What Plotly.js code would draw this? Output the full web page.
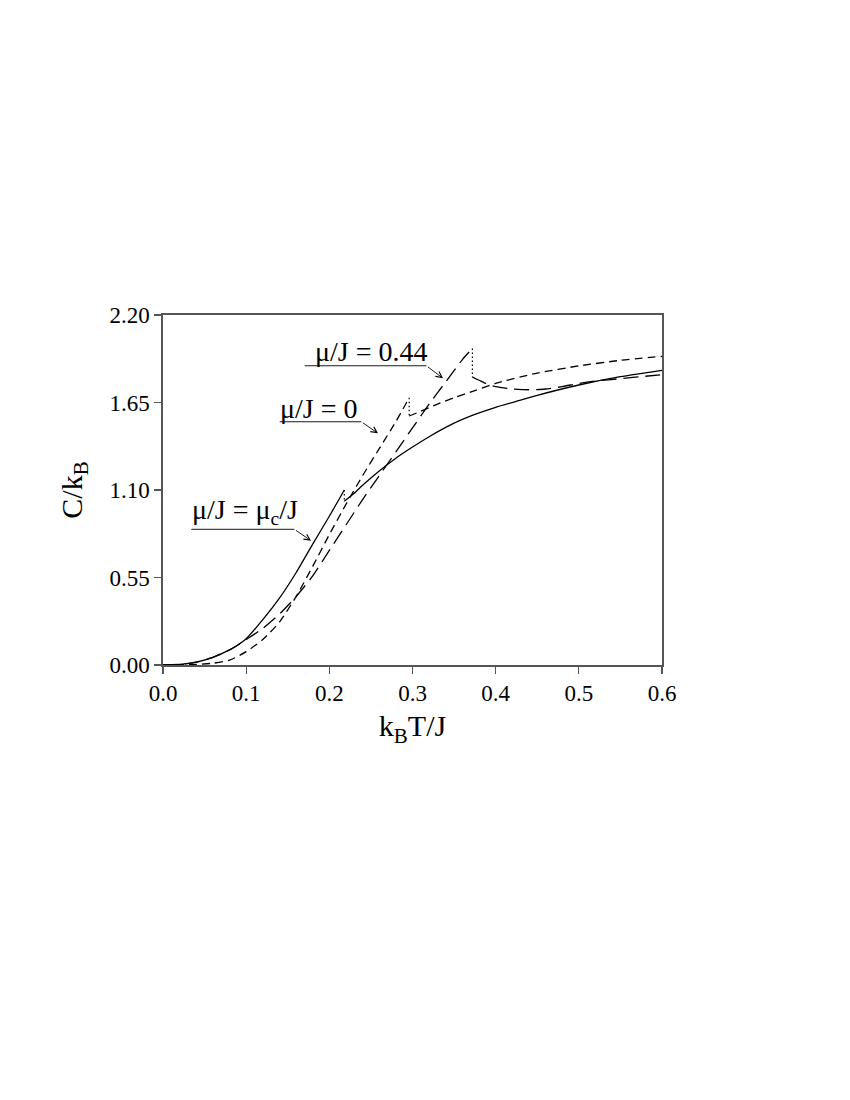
<!DOCTYPE html>
<html>
<head>
<meta charset="utf-8">
<script src="https://cdn.plot.ly/plotly-3.0.1.min.js"></script>
<style>html,body{margin:0;padding:0;background:#fff}#chart{width:850px;height:1100px}</style>
</head>
<body>
<div id="chart"></div>
<script>
// mu/J = mu_c/J (solid)
const tLowC  = [0, 0.02, 0.04, 0.06, 0.08, 0.09, 0.10, 0.12, 0.14, 0.16, 0.18, 0.20, 0.218];
const cLowC  = [0, 0.004, 0.018, 0.048, 0.095, 0.126, 0.165, 0.285, 0.42, 0.58, 0.76, 0.935, 1.10];
const tHighC = [0.218, 0.23, 0.24, 0.26, 0.28, 0.30, 0.32, 0.35, 0.375, 0.40, 0.43, 0.45, 0.50, 0.55, 0.60];
const cHighC = [1.03, 1.08, 1.13, 1.22, 1.30, 1.37, 1.435, 1.52, 1.575, 1.62, 1.665, 1.695, 1.76, 1.812, 1.852];

// mu/J = 0 (short dash)
const tLow0  = [0, 0.02, 0.04, 0.06, 0.08, 0.10, 0.12, 0.14, 0.16, 0.18, 0.20, 0.22, 0.24, 0.26, 0.28, 0.296];
const cLow0  = [0, 0.001, 0.004, 0.011, 0.03, 0.084, 0.16, 0.27, 0.43, 0.62, 0.82, 1.01, 1.19, 1.36, 1.53, 1.68];
const tHigh0 = [0.296, 0.31, 0.33, 0.35, 0.375, 0.40, 0.45, 0.50, 0.55, 0.60];
const cHigh0 = [1.565, 1.595, 1.64, 1.68, 1.725, 1.77, 1.835, 1.88, 1.915, 1.94];

// mu/J = 0.44 (long dash)
const tLow44  = [0, 0.02, 0.04, 0.06, 0.08, 0.09, 0.10, 0.12, 0.14, 0.16, 0.18, 0.20, 0.22, 0.24, 0.26, 0.28, 0.30, 0.32, 0.34, 0.36, 0.372];
const cLow44  = [0, 0.004, 0.018, 0.048, 0.095, 0.126, 0.16, 0.23, 0.32, 0.43, 0.56, 0.72, 0.88, 1.04, 1.19, 1.34, 1.49, 1.64, 1.78, 1.92, 1.99];
const tHigh44 = [0.372, 0.38, 0.39, 0.40, 0.42, 0.44, 0.46, 0.48, 0.50, 0.52, 0.55, 0.58, 0.60];
const cHigh44 = [1.81, 1.79, 1.765, 1.75, 1.735, 1.73, 1.735, 1.75, 1.77, 1.785, 1.80, 1.815, 1.825];

const xTicks = [0, 0.1, 0.2, 0.3, 0.4, 0.5, 0.6];
const yTicks = [0, 0.55, 1.10, 1.65, 2.20];

const labels = ["μ/J = 0.44", "μ/J = 0", "μ/J = μ<sub>c</sub>/J"];
const labelX = [0.25, 0.187, 0.098];
const labelY = [1.97, 1.615, 0.964];
const lineX0 = [0.1704, 0.1403, 0.034];
const lineX1 = [0.3167, 0.2385, 0.158];
const lineY  = [1.881, 1.529, 0.853];
const tipX   = [0.3367, 0.2585, 0.178];
const tipY   = [1.802, 1.456, 0.781];

const font = "Liberation Serif, Times New Roman, serif";
const lw = 1.3;

function line(x, y, dash, w) {
  return {x: x, y: y, type: 'scatter', mode: 'lines', showlegend: false, hoverinfo: 'skip',
          line: {color: '#000', width: w || lw, dash: dash, shape: 'spline', smoothing: 0.6}};
}
function drop(tl, cl, th, ch) {
  return {x: [tl[tl.length-1], th[0]], y: [cl[cl.length-1], ch[0]], type: 'scatter', mode: 'lines',
          showlegend: false, hoverinfo: 'skip', line: {color: '#000', width: 1.2, dash: '1.5px,2.5px'}};
}

const sDash = '8px,5px';
const lDash = '15px,7px';
const traces = [
  line(tLowC, cLowC, 'solid'), drop(tLowC, cLowC, tHighC, cHighC), line(tHighC, cHighC, 'solid'),
  line(tLow0, cLow0, sDash), drop(tLow0, cLow0, tHigh0, cHigh0), line(tHigh0, cHigh0, sDash),
  line(tLow44, cLow44, lDash), drop(tLow44, cLow44, tHigh44, cHigh44), line(tHigh44, cHigh44, lDash)
];

const annotations = [];
const shapes = [];
for (let i = 0; i < labels.length; i++) {
  annotations.push({x: labelX[i], y: labelY[i], xref: 'x', yref: 'y', text: labels[i], showarrow: false,
    font: {family: font, size: 28, color: '#000'}});
  shapes.push({type: 'line', xref: 'x', yref: 'y', x0: lineX0[i], x1: lineX1[i], y0: lineY[i], y1: lineY[i],
    line: {color: '#000', width: 0.9}});
  annotations.push({x: tipX[i], y: tipY[i], xref: 'x', yref: 'y', ax: lineX1[i], ay: lineY[i], axref: 'x', ayref: 'y',
    text: '', showarrow: true, arrowhead: 5, arrowsize: 1.3, arrowwidth: 0.9, arrowcolor: '#000', standoff: 0});
}

const layout = {
  width: 850, height: 1100,
  margin: {l: 163, r: 188, t: 315, b: 435},
  paper_bgcolor: '#fff', plot_bgcolor: '#fff',
  font: {family: font, color: '#000'},
  showlegend: false,
  xaxis: {range: [0, 0.6], tickvals: xTicks, tickformat: '.1f', ticks: 'outside', ticklen: 7, tickwidth: 1.2,
    tickcolor: '#555', showline: true, linecolor: '#555', linewidth: 1.6, mirror: true, showgrid: false, zeroline: false,
    tickfont: {family: font, size: 23, color: '#000'},
    title: {text: 'k<sub>B</sub>T/J', font: {family: font, size: 30, color: '#000'}, standoff: 10}},
  yaxis: {range: [0, 2.2], tickvals: yTicks, tickformat: '.2f', ticks: 'outside', ticklen: 7, tickwidth: 1.2,
    tickcolor: '#555', showline: true, linecolor: '#555', linewidth: 1.6, mirror: true, showgrid: false, zeroline: false,
    tickfont: {family: font, size: 23, color: '#000'},
    title: {text: 'C/k<sub>B</sub>', font: {family: font, size: 30, color: '#000'}, standoff: 18}},
  annotations: annotations,
  shapes: shapes
};

Plotly.newPlot('chart', traces, layout, {displayModeBar: false, staticPlot: true});
</script>
</body>
</html>
